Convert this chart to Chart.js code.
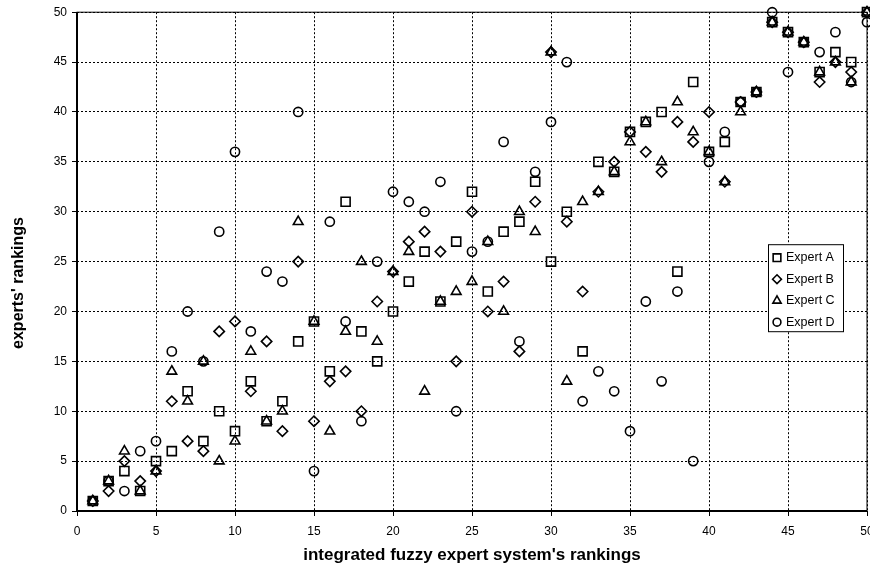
<!DOCTYPE html>
<html>
<head>
<meta charset="utf-8">
<script src="https://cdn.jsdelivr.net/npm/chart.js@4/dist/chart.umd.min.js"></script>
<style>
  html, body { margin: 0; padding: 0; background: #fff; }
  #wrap { width: 870px; height: 570px; }
</style>
</head>
<body>
<div id="wrap"><canvas id="rankChart" width="870" height="570"></canvas></div>
<script>
// system ranking (x) and each expert's ranking (y)
const systemRank = [1, 2, 3, 4, 5, 6, 7, 8, 9, 10, 11, 12, 13, 14, 15, 16, 17, 18, 19, 20, 21, 22, 23, 24, 25,
    26, 27, 28, 29, 30, 31, 32, 33, 34, 35, 36, 37, 38, 39, 40, 41, 42, 43, 44, 45, 46, 47, 48, 49, 50];
const expertA = [1, 3, 4, 2, 5, 6, 12, 7, 10, 8, 13, 9, 11, 17, 19, 14, 31, 18, 15, 20, 23, 26, 21, 27, 32,
    22, 28, 29, 33, 25, 30, 16, 35, 34, 38, 39, 40, 24, 43, 36, 37, 41, 42, 49, 48, 47, 44, 46, 45, 50];
const expertB = [1, 2, 5, 3, 4, 11, 7, 6, 18, 19, 12, 17, 8, 25, 9, 13, 14, 10, 21, 24, 27, 28, 26, 15, 30,
    20, 23, 16, 31, 46, 29, 22, 32, 35, 38, 36, 34, 39, 37, 40, 33, 41, 42, 49, 48, 47, 43, 45, 44, 50];
const expertC = [1, 3, 6, 2, 4, 14, 11, 15, 5, 7, 16, 9, 10, 29, 19, 8, 18, 25, 17, 24, 26, 12, 21, 22, 23,
    27, 20, 30, 28, 46, 13, 31, 32, 34, 37, 39, 35, 41, 38, 36, 33, 40, 42, 49, 48, 47, 44, 45, 43, 50];
const expertD = [1, 3, 2, 6, 7, 16, 20, 15, 28, 36, 18, 24, 23, 40, 4, 29, 19, 9, 25, 32, 31, 30, 33, 10, 26,
    27, 37, 17, 34, 39, 45, 11, 14, 12, 8, 21, 13, 22, 5, 35, 38, 41, 42, 50, 44, 47, 46, 48, 43, 49];
const seriesNames = ['Expert A', 'Expert B', 'Expert C', 'Expert D'];
const xTitle = "integrated fuzzy expert system's rankings";
const yTitle = "experts' rankings";
const axisMin = 0;
const axisMax = 50;
const tickStep = 5;

function toPoints(ys) {
    return systemRank.map((x, i) => ({ x: x, y: ys[i] }));
}

function makeSet(label, ys, style, radius) {
    return {
        label: label,
        data: toPoints(ys),
        pointStyle: style,
        pointRadius: radius,
        pointHoverRadius: radius,
        pointBorderColor: '#000',
        pointBackgroundColor: 'rgba(0,0,0,0)',
        pointBorderWidth: 1.6,
        showLine: false,
        clip: false
    };
}

// solid frame round the plot area
const plotFrame = {
    id: 'plotFrame',
    beforeDatasetsDraw(chart) {
        const a = chart.chartArea;
        const ctx = chart.ctx;
        ctx.save();
        ctx.strokeStyle = '#000';
        ctx.lineWidth = 1;
        ctx.strokeRect(a.left, a.top, a.right - a.left, a.bottom - a.top);
        ctx.lineWidth = 2;
        ctx.beginPath();
        ctx.moveTo(a.left, a.top);
        ctx.lineTo(a.left, a.bottom);
        ctx.lineTo(a.right, a.bottom);
        ctx.stroke();
        ctx.restore();
    }
};

// y title sits a bit below the plot centre in the original
const sideTitle = {
    id: 'sideTitle',
    afterDraw(chart) {
        const ctx = chart.ctx;
        ctx.save();
        ctx.translate(19, 283);
        ctx.rotate(-Math.PI / 2);
        ctx.font = 'bold 16px "Liberation Sans", Arial, sans-serif';
        ctx.fillStyle = '#000';
        ctx.textAlign = 'center';
        ctx.textBaseline = 'middle';
        ctx.fillText(yTitle, 0, 0);
        ctx.restore();
    }
};

// boxed legend inside the plot, like the original
const boxLegend = {
    id: 'boxLegend',
    afterDatasetsDraw(chart) {
        const a = chart.chartArea;
        const ctx = chart.ctx;
        const left = a.right - 99;
        const top = a.top + 232;
        const w = 75, h = 87;
        ctx.save();
        ctx.fillStyle = '#fff';
        ctx.fillRect(left, top, w, h);
        ctx.strokeStyle = '#000';
        ctx.lineWidth = 1;
        ctx.strokeRect(left + 0.5, top + 0.5, w, h);
        ctx.font = '12.5px "Liberation Sans", Arial, sans-serif';
        ctx.textBaseline = 'middle';
        chart.data.datasets.forEach((ds, i) => {
            const y = top + 13.5 + i * 21.5;
            ctx.fillStyle = '#fff';
            ctx.strokeStyle = '#000';
            ctx.lineWidth = 1.6;
            Chart.helpers.drawPoint(ctx, {
                pointStyle: ds.pointStyle,
                radius: ds.pointRadius * 0.85,
                rotation: 0,
                borderWidth: 1.6
            }, left + 9, y);
            ctx.fillStyle = '#000';
            ctx.fillText(ds.label, left + 18, y);
        });
        ctx.restore();
    }
};

const tickFont = { family: '"Liberation Sans", Arial, sans-serif', size: 12 };
const titleFont = { family: '"Liberation Sans", Arial, sans-serif', size: 17, weight: 'bold' };

const ctx = document.getElementById('rankChart').getContext('2d');
new Chart(ctx, {
    type: 'scatter',
    data: {
        datasets: [
            makeSet(seriesNames[0], expertA, 'rect', 6.4),
            makeSet(seriesNames[1], expertB, 'rectRot', 5.2),
            makeSet(seriesNames[2], expertC, 'triangle', 5.6),
            makeSet(seriesNames[3], expertD, 'circle', 4.6)
        ]
    },
    options: {
        responsive: false,
        animation: false,
        layout: { autoPadding: false, padding: { top: 12, right: 3, left: 0, bottom: 0 } },
        plugins: {
            legend: { display: false },
            tooltip: { enabled: false }
        },
        scales: {
            x: {
                type: 'linear',
                min: axisMin,
                max: axisMax,
                afterFit(scale) {
                    scale.height = 59;
                    scale.paddingLeft = 0;
                    scale.paddingRight = 0;
                },
                ticks: { stepSize: tickStep, color: '#000', font: tickFont, padding: 8, maxRotation: 0 },
                grid: { color: '#000', lineWidth: 1, tickLength: 5, tickColor: '#000', tickBorderDash: [] },
                border: { display: false, dash: [2, 2] },
                title: { display: true, text: xTitle, color: '#000', font: titleFont, padding: { top: 0, bottom: 4 } }
            },
            y: {
                type: 'linear',
                min: axisMin,
                max: axisMax,
                afterFit(scale) { scale.width = 77; },
                ticks: { stepSize: tickStep, color: '#000', font: tickFont, padding: 5 },
                grid: { color: '#000', lineWidth: 1, tickLength: 5, tickColor: '#000', tickBorderDash: [] },
                border: { display: false, dash: [2, 2] }
            }
        }
    },
    plugins: [plotFrame, boxLegend, sideTitle]
});
</script>
</body>
</html>
